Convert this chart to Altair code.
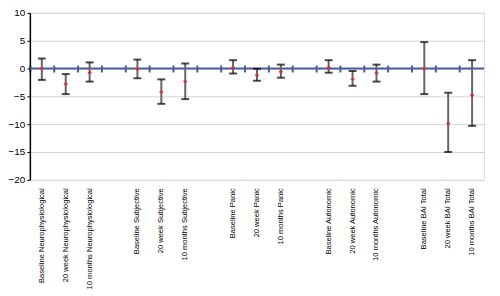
import altair as alt
import pandas as pd

categories = [
    "Baseline Neurophysiological", "20 week Neurophysiological", "10 months Neurophysiological", " ",
    "Baseline Subjective", "20 week Subjective", "10 months Subjective", "  ",
    "Baseline Panic", "20 week Panic", "10 months Panic", "   ",
    "Baseline Autonomic", "20 week Autonomic", "10 months Autonomic", "    ",
    "Baseline BAI Total", "20 week BAI Total", "10 months BAI Total",
]
labelled = [c for c in categories if c.strip()]
means = [0.0, -2.8, -0.7, -0.1, -4.2, -2.35, 0.2, -1.2, -0.6, 0.2, -1.95, -0.8, 0.0, -9.9, -4.8]
uppers = [1.8, -1.0, 1.1, 1.6, -1.95, 0.9, 1.5, -0.05, 0.7, 1.5, -0.45, 0.7, 4.75, -4.35, 1.5]
lowers = [-2.05, -4.6, -2.35, -1.75, -6.35, -5.5, -0.9, -2.2, -1.65, -0.75, -3.1, -2.35, -4.6, -15.0, -10.3]

df = pd.DataFrame({"cat": labelled, "mean": means, "hi": uppers, "lo": lowers})
caps = pd.DataFrame({"cat": labelled * 2, "v": uppers + lowers})
cats_df = pd.DataFrame({"cat": categories, "z": [0] * len(categories)})
zero_df = pd.DataFrame({"z": [0]})

H = 168
zero_px = H * 10 / 30.0
BLUE = "#4a5d9c"

xscale = alt.Scale(domain=categories, paddingInner=0, paddingOuter=0)
yscale = alt.Scale(domain=[-20, 10], nice=False)
yaxis = alt.Axis(values=[-20, -15, -10, -5, 0, 5, 10], labelFont="Liberation Sans", labelFontSize=10,
                 labelColor="#000", tickColor="#000", tickSize=3, domainColor="#000",
                 domainWidth=1.5, labelPadding=2, gridColor="#d4d4d4", gridWidth=1, title=None)

x_labels = alt.X("cat:N", scale=xscale, title=None,
                 axis=alt.Axis(orient="bottom", labelAngle=-90, labelAlign="right", labelBaseline="middle",
                               labelFont="Liberation Sans", labelFontSize=7.6, labelColor="#000",
                               labelPadding=8, ticks=False, domain=False, grid=False, labelOverlap=False,
                               labelLimit=200))

x_ticks = alt.X("cat:N", scale=xscale, title=None,
                axis=alt.Axis(orient="top", offset=-(zero_px + 3.5), labels=False, domain=False,
                              ticks=True, tickColor=BLUE, tickSize=7, tickWidth=2,
                              bandPosition=0, grid=False))

label_layer = alt.Chart(cats_df).mark_point(opacity=0).encode(
    x=x_labels, y=alt.Y("z:Q", scale=yscale, axis=yaxis)
)
tick_layer = alt.Chart(cats_df).mark_point(opacity=0).encode(
    x=x_ticks, y=alt.Y("z:Q", scale=yscale, axis=yaxis)
)
zero_line = alt.Chart(zero_df).mark_rule(color=BLUE, strokeWidth=2).encode(
    y=alt.Y("z:Q", scale=yscale, axis=yaxis)
)

stems = alt.Chart(df).mark_rule(color="#666666", strokeWidth=2).encode(
    x=alt.X("cat:N", scale=xscale, axis=None),
    y=alt.Y("lo:Q", scale=yscale, axis=yaxis),
    y2="hi:Q",
)
cap_marks = alt.Chart(caps).mark_tick(color="#000", thickness=2, size=8, orient="horizontal").encode(
    x=alt.X("cat:N", scale=xscale, axis=None),
    y=alt.Y("v:Q", scale=yscale, axis=yaxis),
)
mean_marks = alt.Chart(df).mark_point(shape="cross", color="#d03030", filled=True, size=14, opacity=1).encode(
    x=alt.X("cat:N", scale=xscale, axis=None),
    y=alt.Y("mean:Q", scale=yscale, axis=yaxis),
)

chart = alt.layer(label_layer, tick_layer, zero_line, stems, cap_marks, mean_marks).resolve_axis(
    x="independent"
).properties(
    width=457, height=H,
    autosize=alt.AutoSizeParams(type="none"),
    padding={"left": 22, "top": 4, "right": 8, "bottom": 116},
).configure_view(stroke="#b0b0b0", strokeWidth=1.5).configure(background="white")

chart.save("out.html", embed_options={"renderer": "svg", "actions": False})
